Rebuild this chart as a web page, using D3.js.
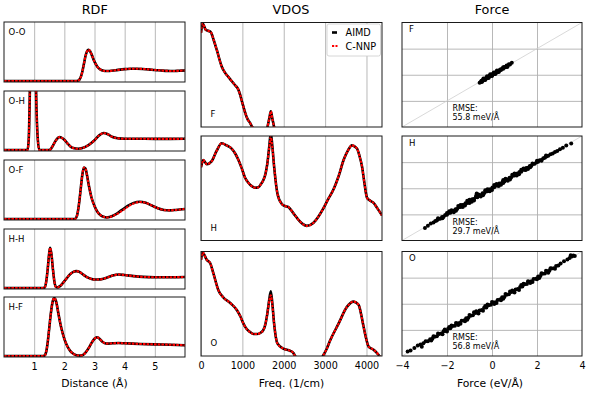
<!DOCTYPE html>
<html>
<head>
<meta charset="utf-8">
<script src="https://cdn.jsdelivr.net/npm/d3@7"></script>
<style>
body { margin: 0; background: #fff; }
text { font-family: "DejaVu Sans", sans-serif; fill: #000; }
</style>
</head>
<body>
<svg width="591" height="394"></svg>
<script>
// ---- RDF data (r in Angstrom, g(r)) ----
var rdfPairs = ["O-O", "O-H", "O-F", "H-H", "H-F"];
var rdfTicks = [1, 2, 3, 4, 5];

var ooR = [0, 2.4, 2.45, 2.5, 2.55, 2.6, 2.65, 2.7, 2.75, 2.8, 2.85, 2.9, 3.0, 3.1, 3.2, 3.3, 3.4, 3.5, 3.7, 4.0, 4.2, 4.4, 4.6, 4.8, 5.0, 5.2, 5.4, 5.6, 5.8, 6.0];
var ooAimd = [0, 0, 0.02, 0.12, 0.4, 0.9, 1.6, 2.3, 2.75, 2.9, 2.8, 2.5, 1.8, 1.3, 1.05, 0.95, 0.92, 0.93, 1.0, 1.1, 1.13, 1.14, 1.12, 1.08, 1.02, 0.98, 0.94, 0.92, 0.95, 0.98];
var ooNnp = ooAimd;

var ohR = [0, 0.78, 0.82, 0.86, 0.9, 0.96, 1.02, 1.06, 1.12, 1.17, 1.5, 1.55, 1.6, 1.7, 1.8, 1.85, 1.9, 2.0, 2.1, 2.2, 2.3, 2.45, 2.6, 2.8, 3.0, 3.15, 3.3, 3.45, 3.6, 3.8, 4.0, 4.5, 5.0, 5.5, 6.0];
var ohAimd = [0, 0, 1, 6, 14, 20, 14, 6, 1, 0, 0, 0.08, 0.3, 0.8, 1.15, 1.2, 1.15, 0.95, 0.62, 0.33, 0.17, 0.11, 0.18, 0.45, 0.9, 1.35, 1.58, 1.45, 1.2, 1.08, 1.04, 1.04, 1.03, 1.03, 1.04];
var ohNnp = ohAimd;

var ofR = [0, 2.35, 2.4, 2.45, 2.5, 2.55, 2.6, 2.65, 2.7, 2.75, 2.8, 2.9, 3.0, 3.1, 3.2, 3.3, 3.4, 3.5, 3.7, 3.9, 4.1, 4.3, 4.5, 4.7, 4.9, 5.1, 5.3, 5.5, 5.7, 6.0];
var ofAimd = [0, 0, 0.15, 0.7, 1.7, 3.0, 4.2, 4.8, 4.7, 4.1, 3.3, 2.0, 1.2, 0.65, 0.35, 0.2, 0.14, 0.18, 0.42, 0.82, 1.22, 1.5, 1.6, 1.5, 1.25, 1.0, 0.84, 0.8, 0.84, 0.93];
var ofNnp = [0, 0, 0.15, 0.7, 1.7, 3.0, 4.2, 4.8, 4.7, 4.1, 3.3, 2.0, 1.2, 0.65, 0.35, 0.2, 0.14, 0.18, 0.4, 0.74, 1.13, 1.44, 1.58, 1.5, 1.25, 1.0, 0.84, 0.8, 0.84, 0.93];

var hhR = [0, 1.3, 1.35, 1.4, 1.45, 1.5, 1.53, 1.57, 1.62, 1.67, 1.72, 1.78, 1.85, 1.95, 2.05, 2.2, 2.3, 2.4, 2.5, 2.6, 2.75, 2.9, 3.0, 3.2, 3.4, 3.6, 3.8, 4.0, 4.3, 4.6, 5.0, 5.5, 6.0];
var hhAimd = [0, 0, 0.05, 0.6, 1.8, 3.3, 3.75, 3.2, 1.8, 0.6, 0.1, 0.05, 0.15, 0.45, 0.8, 1.3, 1.5, 1.57, 1.5, 1.3, 1.0, 0.83, 0.78, 0.8, 0.95, 1.15, 1.25, 1.2, 1.1, 1.03, 1.0, 1.0, 1.02];
var hhNnp = hhAimd;

var hfR = [0, 1.3, 1.35, 1.4, 1.45, 1.5, 1.55, 1.6, 1.66, 1.7, 1.75, 1.8, 1.9, 2.0, 2.1, 2.2, 2.3, 2.4, 2.5, 2.6, 2.7, 2.8, 2.9, 3.0, 3.08, 3.15, 3.25, 3.4, 3.6, 3.8, 4.0, 4.5, 5.0, 5.5, 6.0];
var hfAimd = [0, 0, 0.05, 0.4, 1.3, 2.6, 3.9, 4.9, 5.4, 5.3, 4.8, 4.0, 2.6, 1.6, 0.9, 0.45, 0.2, 0.07, 0.03, 0.07, 0.3, 0.7, 1.2, 1.6, 1.75, 1.65, 1.35, 1.15, 1.18, 1.2, 1.18, 1.12, 1.08, 1.05, 1.0];
var hfNnp = hfAimd;

// ---- VDOS data (freq 1/cm, normalised intensity) ----
var vdosLabels = ["F", "H", "O"];
var vdosTicks = [0, 1000, 2000, 3000, 4000];

var fFreq = [0, 40, 115, 235, 300, 380, 500, 580, 660, 740, 825, 900, 945, 1000, 1065, 1120, 1185, 1265, 1350, 1450, 1550, 1605, 1650, 1687, 1725, 1767, 1850, 2000, 2500, 3000, 3500, 4000, 4375];
var fAimd = [0.9, 0.99, 0.93, 0.91, 0.84, 0.74, 0.58, 0.52, 0.48, 0.44, 0.4, 0.36, 0.31, 0.23, 0.14, 0.08, 0.04, -0.02, -0.08, -0.1, -0.05, 0.0, 0.08, 0.15, 0.08, 0.0, -0.1, -0.2, -0.3, -0.3, -0.3, -0.3, -0.3];
var fNnp = fAimd;

var hFreq = [0, 55, 140, 260, 380, 500, 620, 740, 830, 905, 985, 1065, 1150, 1227, 1300, 1388, 1450, 1509, 1560, 1605, 1650, 1687, 1725, 1767, 1847, 1953, 2030, 2114, 2235, 2397, 2560, 2720, 2840, 2961, 3080, 3204, 3330, 3446, 3550, 3648, 3770, 3830, 3891, 3950, 4012, 4090, 4172, 4260, 4375];
var hAimd = [0.7, 0.77, 0.73, 0.76, 0.86, 0.93, 0.91, 0.88, 0.83, 0.77, 0.69, 0.6, 0.55, 0.52, 0.505, 0.51, 0.54, 0.58, 0.64, 0.74, 0.9, 1.03, 0.9, 0.71, 0.45, 0.35, 0.33, 0.32, 0.26, 0.18, 0.14, 0.17, 0.23, 0.31, 0.4, 0.49, 0.62, 0.77, 0.86, 0.91, 0.88, 0.81, 0.71, 0.55, 0.41, 0.38, 0.36, 0.31, 0.24];
var hNnp = [0.7, 0.77, 0.73, 0.76, 0.86, 0.93, 0.91, 0.88, 0.83, 0.77, 0.69, 0.6, 0.55, 0.52, 0.505, 0.51, 0.54, 0.58, 0.64, 0.74, 0.89, 0.99, 0.89, 0.71, 0.45, 0.35, 0.33, 0.32, 0.26, 0.18, 0.14, 0.17, 0.23, 0.31, 0.4, 0.49, 0.62, 0.77, 0.86, 0.91, 0.88, 0.81, 0.71, 0.55, 0.41, 0.38, 0.36, 0.31, 0.24];

var oFreq = [0, 40, 140, 220, 300, 420, 540, 700, 865, 950, 1025, 1100, 1185, 1270, 1350, 1430, 1509, 1560, 1605, 1650, 1687, 1725, 1767, 1847, 1993, 2155, 2230, 2275, 2350, 2500, 2800, 2961, 3040, 3123, 3325, 3527, 3688, 3809, 3870, 3930, 3990, 4051, 4172, 4293, 4375];
var oAimd = [0.92, 0.99, 0.92, 0.89, 0.79, 0.63, 0.56, 0.51, 0.44, 0.38, 0.31, 0.26, 0.23, 0.21, 0.21, 0.22, 0.25, 0.31, 0.41, 0.54, 0.62, 0.5, 0.31, 0.12, 0.07, 0.05, 0.03, 0.0, -0.05, -0.1, -0.08, 0.01, 0.07, 0.15, 0.31, 0.47, 0.52, 0.49, 0.4, 0.28, 0.17, 0.09, 0.06, 0.01, -0.04];
var oNnp = [0.92, 0.99, 0.92, 0.89, 0.79, 0.63, 0.56, 0.51, 0.44, 0.38, 0.31, 0.26, 0.23, 0.21, 0.21, 0.22, 0.25, 0.31, 0.41, 0.53, 0.58, 0.49, 0.31, 0.12, 0.07, 0.05, 0.03, 0.0, -0.05, -0.1, -0.08, 0.01, 0.07, 0.15, 0.31, 0.47, 0.52, 0.49, 0.4, 0.28, 0.17, 0.09, 0.06, 0.01, -0.04];

// ---- Force parity data ([AIMD, C-NNP] in eV/A) ----
var forceLabels = ["F", "H", "O"];
var forceRmse = ["55.8 meV/Å", "29.7 meV/Å", "56.8 meV/Å"];
var forceTicks = [-4, -2, 0, 2, 4];

var forceF = [[-0.55,-0.62],[-0.5,-0.55],[-0.47,-0.45],[-0.42,-0.48],[-0.4,-0.38],[-0.35,-0.4],[-0.32,-0.3],[-0.28,-0.33],[-0.25,-0.22],[-0.2,-0.25],[-0.18,-0.15],[-0.13,-0.16],[-0.1,-0.06],[-0.05,-0.1],[-0.02,0.02],[0.02,-0.02],[0.05,0.08],[0.1,0.05],[0.12,0.15],[0.17,0.13],[0.2,0.24],[0.25,0.2],[0.28,0.31],[0.33,0.3],[0.36,0.4],[0.4,0.36],[0.45,0.48],[0.5,0.46],[0.55,0.6],[0.6,0.57],[0.65,0.7],[0.7,0.68],[0.75,0.8],[0.8,0.78],[0.88,0.92],
  [-0.45,-0.56],[-0.3,-0.4],[-0.15,-0.24],[0.0,-0.1],[0.15,0.06],[0.3,0.22],[-0.38,-0.28],[-0.22,-0.12],[-0.08,0.04],[0.08,0.18],[0.22,0.33],[0.5,0.58],[0.68,0.6]];

var forceH = [[-2.98,-3.05],[-2.85,-2.88],[-2.72,-2.7],
  [-2.6,-2.63],[-2.52,-2.5],[-2.45,-2.47],[-2.38,-2.35],[-2.3,-2.33],[-2.22,-2.2],[-2.15,-2.18],[-2.08,-2.04],[-2.0,-2.03],[-1.93,-1.89],[-1.85,-1.88],[-1.78,-1.74],[-1.7,-1.73],[-1.62,-1.6],[-1.55,-1.58],[-1.48,-1.45],[-1.4,-1.43],[-1.32,-1.29],[-1.25,-1.28],[-1.18,-1.14],[-1.1,-1.13],[-1.02,-0.99],[-0.95,-0.98],[-0.88,-0.84],[-0.8,-0.83],[-0.72,-0.69],[-0.65,-0.68],[-0.58,-0.54],[-0.5,-0.53],[-0.42,-0.39],[-0.35,-0.38],[-0.28,-0.24],[-0.2,-0.23],[-0.12,-0.09],[-0.05,-0.08],[0.02,0.06],[0.1,0.07],[0.18,0.21],[0.25,0.22],[0.32,0.36],[0.4,0.37],[0.48,0.51],[0.55,0.52],[0.62,0.66],[0.7,0.67],[0.78,0.81],[0.85,0.82],[0.92,0.96],[1.0,0.97],[1.08,1.11],[1.15,1.12],[1.22,1.25],[1.3,1.27],[1.38,1.41],[1.45,1.42],[1.52,1.55],[1.6,1.57],[1.68,1.7],[1.75,1.72],[1.82,1.85],[1.9,1.87],[1.98,2.0],[2.05,2.02],[2.12,2.15],[2.2,2.17],[2.28,2.3],[2.35,2.33],[2.42,2.44],[2.5,2.48],[2.6,2.6],[2.7,2.66],[2.8,2.78],[2.9,2.85],
  [3.02,2.98],[3.15,3.1],[3.3,3.28],[3.52,3.42],
  [-1.8,-1.68],[-1.6,-1.72],[-1.4,-1.29],[-1.2,-1.32],[-1.0,-0.88],[-0.8,-0.93],[-0.6,-0.48],[-0.4,-0.53],[-0.2,-0.08],[0.0,-0.13],[0.2,0.32],[0.4,0.27],[0.6,0.72],[0.8,0.67],[1.0,1.12],[1.2,1.07],[1.4,1.51],[1.6,1.48],[1.8,1.9],
  [-1.9,-1.76],[-1.5,-1.36],[-1.1,-0.96],[-0.7,-0.56],[-0.3,-0.16],[0.1,0.24],[0.5,0.63],[0.9,1.03],[1.3,1.42],
  [-1.7,-1.84],[-1.3,-1.44],[-0.9,-1.03],[-0.5,-0.64],[-0.1,-0.23],[0.3,0.17],[0.7,0.57],[1.1,0.98],[1.5,1.39],[-0.68,-0.4],
  [-2.4,-2.3],[-2.2,-2.3],[-2.0,-1.9],[2.0,2.1],[2.2,2.1],[2.4,2.5],[1.7,1.6],[-1.0,-1.12],[0.5,0.4]];

var forceO = [[-3.75,-3.66],[-3.62,-3.58],[-3.45,-3.38],[-3.3,-3.2],[-3.12,-3.29],[-3.18,-3.12],[-3.05,-3.02],[-2.95,-2.88],
  [-2.85,-2.87],[-2.75,-2.72],[-2.65,-2.68],[-2.55,-2.52],[-2.45,-2.48],[-2.35,-2.31],[-2.25,-2.28],[-2.15,-2.11],[-2.05,-2.08],[-1.95,-1.91],[-1.85,-1.88],[-1.75,-1.71],[-1.65,-1.68],[-1.55,-1.51],[-1.45,-1.48],[-1.35,-1.31],[-1.25,-1.28],[-1.15,-1.11],[-1.05,-1.08],[-0.95,-0.91],[-0.85,-0.88],[-0.75,-0.71],[-0.65,-0.68],[-0.55,-0.51],[-0.45,-0.48],[-0.35,-0.31],[-0.25,-0.28],[-0.15,-0.11],[-0.05,-0.08],[0.05,0.09],[0.15,0.12],[0.25,0.29],[0.35,0.32],[0.45,0.49],[0.55,0.52],[0.65,0.69],[0.75,0.72],[0.85,0.89],[0.95,0.92],[1.05,1.09],[1.15,1.12],[1.25,1.29],[1.35,1.32],[1.45,1.49],[1.55,1.52],[1.65,1.69],[1.75,1.72],[1.85,1.89],[1.95,1.92],[2.05,2.09],[2.15,2.12],[2.25,2.29],[2.35,2.32],[2.45,2.49],[2.55,2.52],[2.65,2.69],[2.75,2.72],[2.85,2.89],[2.95,2.93],[3.05,3.08],
  [3.2,3.25],[3.35,3.38],[3.45,3.5],[3.55,3.62],[3.62,3.7],[3.68,3.66],[3.5,3.72],
  [-2.4,-2.28],[-2.0,-2.13],[-1.6,-1.47],[-1.2,-1.34],[-0.8,-0.66],[-0.4,-0.54],[0.0,0.14],[0.4,0.26],[0.8,0.94],[1.2,1.06],[1.6,1.73],[2.0,1.87],[2.4,2.52],
  [-2.2,-2.33],[-1.8,-1.66],[-1.4,-1.54],[-1.0,-0.86],[-0.6,-0.74],[-0.2,-0.06],[0.2,0.06],[0.6,0.74],[1.0,0.87],[1.4,1.53],[1.8,1.67],[2.2,2.33],
  [-1.9,-1.78],[-1.1,-1.22],[-0.3,-0.17],[0.5,0.38],[1.3,1.43],[2.1,1.98],
  [-2.6,-2.48],[-2.7,-2.82],[2.6,2.72],[2.8,2.68],[-1.5,-1.62],[-0.7,-0.58],[0.1,-0.02],[0.9,1.02],[1.7,1.58],[2.5,2.38],[-2.1,-1.98]];

// ---- layout ----
var svg = d3.select("svg");
var rdfTops = [22, 91, 160, 229, 297], rdfH = 60;
var colTops = [22.5, 136, 251.5], colH = 104.5;

var rdfCurves = [[ooR, ooAimd, ooNnp], [ohR, ohAimd, ohNnp], [ofR, ofAimd, ofNnp], [hhR, hhAimd, hhNnp], [hfR, hfAimd, hfNnp]];
var vdosCurves = [[fFreq, fAimd, fNnp], [hFreq, hAimd, hNnp], [oFreq, oAimd, oNnp]];
var forceSets = [forceF, forceH, forceO];

var clipId = 0;
function panel(left, right, top, h, xDomain, yDomain, xTicks, yTicks) {
  var g = svg.append("g").attr("transform", "translate(" + left + "," + top + ")");
  var w = right - left;
  var x = d3.scaleLinear().domain(xDomain).range([0, w]);
  var y = d3.scaleLinear().domain(yDomain).range([h, 0]);
  var id = "clip" + (clipId++);
  g.append("clipPath").attr("id", id).append("rect").attr("width", w).attr("height", h);
  var grid = g.append("g").attr("transform", "translate(0," + h + ")")
    .call(d3.axisBottom(x).tickValues(xTicks).tickSize(-h).tickFormat(""));
  grid.select(".domain").remove();
  grid.selectAll("line").attr("stroke", "#b0b0b0").attr("stroke-width", 0.9);
  if (yTicks) {
    var gy = g.append("g").call(d3.axisLeft(y).tickValues(yTicks).tickSize(-w).tickFormat(""));
    gy.select(".domain").remove();
    gy.selectAll("line").attr("stroke", "#b0b0b0").attr("stroke-width", 0.9);
  }
  var plot = g.append("g").attr("clip-path", "url(#" + id + ")");
  return { g: g, plot: plot, x: x, y: y, w: w, h: h };
}
function frame(p) {
  p.g.append("rect").attr("width", p.w).attr("height", p.h)
    .attr("fill", "none").attr("stroke", "#1a1a1a").attr("stroke-width", 1);
}
function curves(p, xs, a, b) {
  var line = d3.line().x(function(d) { return p.x(d[0]); }).y(function(d) { return p.y(d[1]); }).curve(d3.curveMonotoneX);
  p.plot.append("path").attr("d", line(d3.zip(xs, a))).attr("fill", "none")
    .attr("stroke", "#000").attr("stroke-width", 2.6).attr("stroke-linejoin", "round");
  p.plot.append("path").attr("d", line(d3.zip(xs, b))).attr("fill", "none")
    .attr("stroke", "#ff0000").attr("stroke-width", 2.1).attr("stroke-dasharray", "2.6,1.1");
}
function label(p, x, y, txt, size) {
  p.g.append("text").attr("x", x).attr("y", y).attr("font-size", size).text(txt);
}
function bottomAxis(p, ticks, fmt) {
  var ax = p.g.append("g").attr("transform", "translate(0," + p.h + ")")
    .call(d3.axisBottom(p.x).tickValues(ticks).tickSize(0).tickPadding(6).tickFormat(fmt));
  ax.select(".domain").remove();
  ax.selectAll("text").attr("font-size", 9.6).attr("font-family", "DejaVu Sans").attr("fill", "#000");
}

// ---- RDF column ----
rdfPairs.forEach(function(name, i) {
  var p = panel(4, 185, rdfTops[i], rdfH, [0, 6], [-0.1, 5.5], rdfTicks);
  curves(p, rdfCurves[i][0], rdfCurves[i][1], rdfCurves[i][2]);
  frame(p);
  label(p, 4.5, 13, name, 8.5);
  if (i === rdfPairs.length - 1) bottomAxis(p, rdfTicks, d3.format("d"));
});

// ---- VDOS column ----
vdosLabels.forEach(function(name, i) {
  var p = panel(201, 382, colTops[i], colH, [0, 4375], [0, 1], vdosTicks);
  curves(p, vdosCurves[i][0], vdosCurves[i][1], vdosCurves[i][2]);
  frame(p);
  label(p, 9.5, colH - 10, name, 8.5);
  if (i === 0) {
    var lg = p.g.append("g").attr("transform", "translate(126,1.5)");
    lg.append("rect").attr("width", 53.5).attr("height", 32).attr("rx", 2)
      .attr("fill", "#fff").attr("stroke", "#cccccc").attr("stroke-width", 0.8);
    lg.append("line").attr("x1", 5).attr("x2", 10).attr("y1", 8.5).attr("y2", 8.5)
      .attr("stroke", "#000").attr("stroke-width", 2.6);
    lg.append("line").attr("x1", 5).attr("x2", 10.5).attr("y1", 22).attr("y2", 22)
      .attr("stroke", "#ff0000").attr("stroke-width", 2.1).attr("stroke-dasharray", "2.2,1.3");
    lg.append("text").attr("x", 18.5).attr("y", 12).attr("font-size", 9.7).text("AIMD");
    lg.append("text").attr("x", 18.5).attr("y", 25.5).attr("font-size", 9.7).text("C-NNP");
  }
  if (i === vdosLabels.length - 1) bottomAxis(p, vdosTicks, d3.format("d"));
});

// ---- Force column ----
forceLabels.forEach(function(name, i) {
  var p = panel(402, 582, colTops[i], colH, [-4, 4], [-4, 4], [-2, 0, 2], [-2, 0, 2]);
  p.plot.append("line").attr("x1", p.x(-4)).attr("y1", p.y(-4)).attr("x2", p.x(4)).attr("y2", p.y(4))
    .attr("stroke", "#cfcfcf").attr("stroke-width", 0.8);
  p.plot.selectAll("circle").data(forceSets[i]).enter().append("circle")
    .attr("cx", function(d) { return p.x(d[0]); })
    .attr("cy", function(d) { return p.y(d[1]); })
    .attr("r", 2).attr("fill", "#000");
  frame(p);
  label(p, 7, 9.5, name, 8.5);
  label(p, 50.5, colH - 16, "RMSE:", 8);
  label(p, 50.5, colH - 7, forceRmse[i], 8);
  if (i === forceLabels.length - 1) bottomAxis(p, forceTicks, function(d) { return d < 0 ? "\u2212" + Math.abs(d) : d; });
});

// ---- titles and axis labels ----
var titles = [["RDF", 94.7], ["VDOS", 291], ["Force", 492]];
titles.forEach(function(t) {
  svg.append("text").attr("x", t[1]).attr("y", 14).attr("text-anchor", "middle").attr("font-size", 12.8).text(t[0]);
});
var xLabels = [["Distance (Å)", 94.5], ["Freq. (1/cm)", 291.5], ["Force (eV/Å)", 490]];
xLabels.forEach(function(t) {
  svg.append("text").attr("x", t[1]).attr("y", 386.5).attr("text-anchor", "middle").attr("font-size", 10.8).text(t[0]);
});
</script>
</body>
</html>
